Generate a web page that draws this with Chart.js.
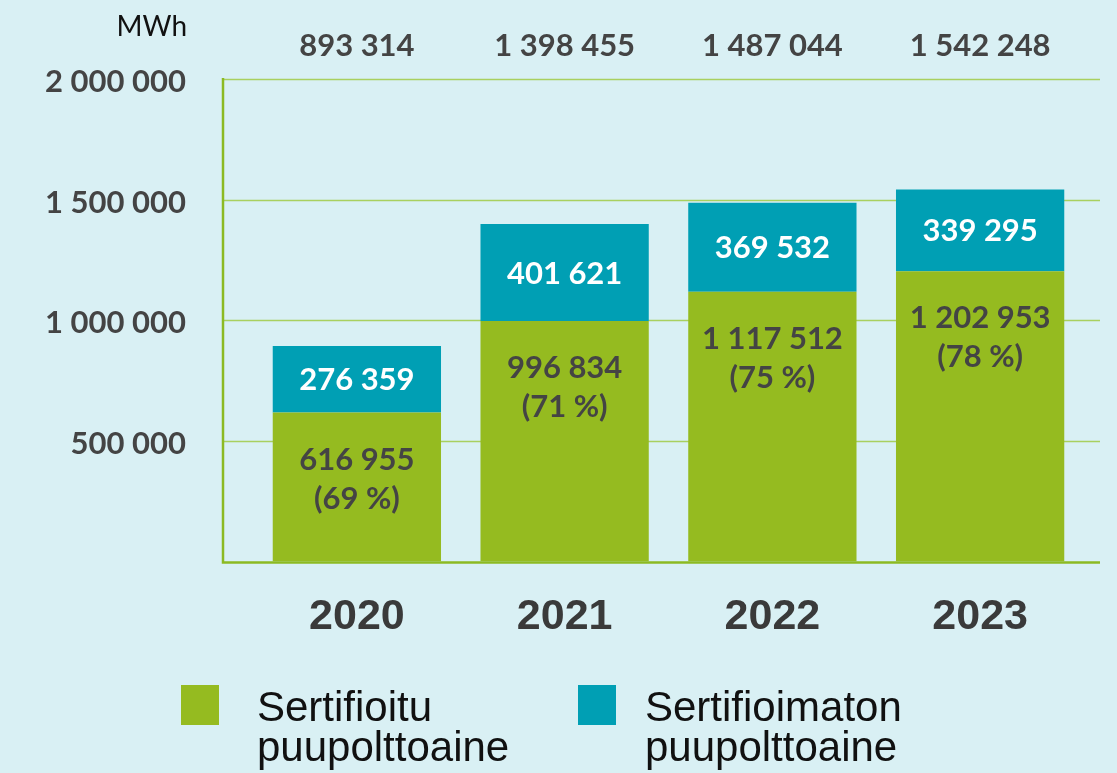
<!DOCTYPE html>
<html lang="fi">
<head>
    <meta charset="utf-8">
    <title>Puupolttoaine MWh</title>
    <script src="https://cdn.jsdelivr.net/npm/chart.js"></script>
    <style>
        html, body { margin: 0; padding: 0; background: #d9f0f4; overflow: hidden; }
        #wrap { position: relative; width: 1117px; height: 773px; }
        #legend { position: absolute; left: 0; top: 0; width: 100%; height: 100%; pointer-events: none; }
        .lg-box { position: absolute; top: 685px; width: 38px; height: 40px; }
        .lg-text { position: absolute; top: 687px; font-family: "Liberation Sans", Arial, sans-serif;
                   font-size: 42px; line-height: 40px; color: #111; white-space: nowrap; }
    </style>
</head>
<body>
<div id="wrap">
    <canvas id="chart" width="1117" height="773"></canvas>
    <div id="legend"></div>
</div>
<script>
    // data
    var years = ['2020', '2021', '2022', '2023'];
    var certified = [616955, 996834, 1117512, 1202953];
    var uncertified = [276359, 401621, 369532, 339295];
    var totals = [893314, 1398455, 1487044, 1542248];
    var shares = ['69 %', '71 %', '75 %', '78 %'];
    var seriesNames = [['Sertifioitu', 'puupolttoaine'], ['Sertifioimaton', 'puupolttoaine']];
    var unit = 'MWh';

    var GREEN = '#95bb20';
    var TEAL = '#009fb4';
    var DARK = '#444444';
    var numFont = 'Lato, "Open Sans", sans-serif';

    // 1 234 567
    function fmt(n) {
        return String(n).replace(/\B(?=(\d{3})+(?!\d))/g, ' ');
    }

    // gridlines, axis lines and all the extra labels
    var decorations = {
        id: 'decorations',
        beforeDatasetsDraw: function (chart) {
            var ctx = chart.ctx, a = chart.chartArea, y = chart.scales.y;
            var x0 = a.left - 30, x1 = a.right + 16;
            ctx.save();
            ctx.strokeStyle = '#a9d05f';
            ctx.lineWidth = 1.5;
            y.ticks.forEach(function (t) {
                if (t.value <= 0) return;
                var py = Math.round(y.getPixelForValue(t.value)) + 0.5;
                ctx.beginPath();
                ctx.moveTo(x0, py);
                ctx.lineTo(x1, py);
                ctx.stroke();
            });
            ctx.strokeStyle = '#8cba22';
            ctx.lineWidth = 2.5;
            var yb = y.getPixelForValue(0) + 1;
            ctx.beginPath();
            ctx.moveTo(x0, a.top - 1);
            ctx.lineTo(x0, yb);
            ctx.lineTo(x1, yb);
            ctx.stroke();
            ctx.restore();
        },
        afterDatasetsDraw: function (chart) {
            var ctx = chart.ctx, a = chart.chartArea, y = chart.scales.y;
            var low = chart.getDatasetMeta(0).data;
            var high = chart.getDatasetMeta(1).data;
            ctx.save();
            ctx.textAlign = 'center';
            ctx.textBaseline = 'middle';

            // totals above the plot
            ctx.fillStyle = DARK;
            ctx.font = 'bold 31px ' + numFont;
            totals.forEach(function (v, i) {
                ctx.fillText(fmt(v), low[i].x, a.top - 33);
            });

            // unit
            ctx.fillStyle = '#111';
            ctx.font = '400 28px ' + numFont;
            ctx.textAlign = 'right';
            ctx.fillText(unit, y.right - 66, a.top - 52);
            ctx.textAlign = 'center';

            // uncertified values, centred in the teal part
            ctx.fillStyle = '#ffffff';
            ctx.font = 'bold 31px ' + numFont;
            uncertified.forEach(function (v, i) {
                var b = high[i];
                ctx.fillText(fmt(v), b.x, (b.y + b.base) / 2 + 1);
            });

            // certified values and share, near the top of the green part
            ctx.fillStyle = DARK;
            certified.forEach(function (v, i) {
                var b = low[i];
                ctx.fillText(fmt(v), b.x, b.y + 47);
                ctx.fillText('(' + shares[i] + ')', b.x, b.y + 86);
            });
            ctx.restore();
        }
    };

    var ctx = document.getElementById('chart').getContext('2d');
    var myChart = new Chart(ctx, {
        type: 'bar',
        data: {
            labels: years,
            datasets: [{
                label: seriesNames[0].join(' '),
                data: certified,
                backgroundColor: GREEN,
                borderWidth: 0,
                barPercentage: 0.81,
                categoryPercentage: 1
            }, {
                label: seriesNames[1].join(' '),
                data: uncertified,
                backgroundColor: TEAL,
                borderWidth: 0,
                barPercentage: 0.81,
                categoryPercentage: 1
            }]
        },
        options: {
            responsive: false,
            animation: false,
            layout: { padding: { top: 79, right: 33, bottom: 100, left: 0 } },
            plugins: {
                legend: { display: false },
                tooltip: { enabled: false }
            },
            scales: {
                x: {
                    stacked: true,
                    grid: { display: false, drawTicks: false },
                    border: { display: false },
                    ticks: {
                        padding: 30,
                        color: '#3a3a3a',
                        font: { family: '"Liberation Sans", Arial, sans-serif', size: 43, weight: 'bold' }
                    }
                },
                y: {
                    stacked: true,
                    min: 0,
                    max: 2000000,
                    afterFit: function (s) {
                        s.width = 253;
                        s.paddingTop = 0;
                        s.paddingBottom = 0;
                    },
                    grid: { display: false, drawTicks: false },
                    border: { display: false },
                    ticks: {
                        stepSize: 500000,
                        padding: 67,
                        labelOffset: 3,
                        color: DARK,
                        font: { family: numFont, size: 31, weight: 'bold' },
                        callback: function (v) { return v === 0 ? '' : fmt(v); }
                    }
                }
            }
        },
        plugins: [decorations]
    });

    // legend with two-line labels
    var legendEl = document.getElementById('legend');
    var boxLeft = [181, 578];
    var textLeft = [257, 645];
    myChart.data.datasets.forEach(function (ds, i) {
        var box = document.createElement('div');
        box.className = 'lg-box';
        box.style.left = boxLeft[i] + 'px';
        box.style.background = ds.backgroundColor;
        var txt = document.createElement('div');
        txt.className = 'lg-text';
        txt.style.left = textLeft[i] + 'px';
        txt.innerHTML = seriesNames[i].join('<br>');
        legendEl.appendChild(box);
        legendEl.appendChild(txt);
    });
</script>
</body>
</html>
